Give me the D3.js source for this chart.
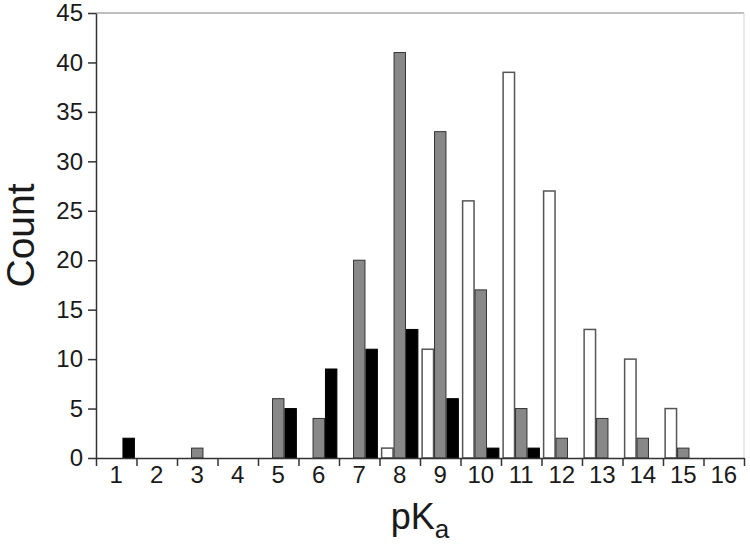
<!DOCTYPE html>
<html>
<head>
<meta charset="utf-8">
<script src="https://cdn.jsdelivr.net/npm/d3@7"></script>
<style>
  body { margin: 0; background: #fff; }
  svg { display: block; font-family: "Liberation Sans", Arial, sans-serif; }
</style>
</head>
<body>
<svg width="750" height="546"></svg>
<script>
var categories = ["1", "2", "3", "4", "5", "6", "7", "8", "9", "10", "11", "12", "13", "14", "15", "16"];
var series = ["white", "gray", "black"];
var whiteCounts = [0, 0, 0, 0, 0, 0, 0, 1, 11, 26, 39, 27, 13, 10, 5, 0];
var grayCounts  = [0, 0, 1, 0, 6, 4, 20, 41, 33, 17, 5, 2, 4, 2, 1, 0];
var blackCounts = [2, 0, 0, 0, 5, 9, 11, 13, 6, 1, 1, 0, 0, 0, 0, 0];
var yTicks = [0, 5, 10, 15, 20, 25, 30, 35, 40, 45];

var svg = d3.select("svg"),
    plotL = 96, plotR = 744, plotT = 13, plotB = 458;

var fills = { white: "#ffffff", gray: "#888888", black: "#000000" };
var strokes = { white: "#555555", gray: "#333333", black: "#000000" };
var counts = { white: whiteCounts, gray: grayCounts, black: blackCounts };

var x = d3.scaleBand()
    .domain(categories)
    .range([plotL, plotR])
    .paddingInner(0.08)
    .paddingOuter(0.04);

var xs = d3.scaleBand()
    .domain(series)
    .range([0, x.bandwidth()]);

var y = d3.scaleLinear()
    .domain([0, 45])
    .range([plotB, plotT]);

// frame lines on top and right
svg.append("line")
    .attr("x1", plotL).attr("x2", plotR)
    .attr("y1", plotT).attr("y2", plotT)
    .attr("stroke", "#aaaaaa").attr("stroke-width", 1.5);
svg.append("line")
    .attr("x1", plotR).attr("x2", plotR)
    .attr("y1", plotT).attr("y2", plotB)
    .attr("stroke", "#d4d4d4").attr("stroke-width", 1);

// bars
var data = [];
categories.forEach(function (c, i) {
    series.forEach(function (s) {
        if (counts[s][i] > 0) data.push({ cat: c, s: s, v: counts[s][i] });
    });
});

svg.append("g")
    .selectAll("rect")
    .data(data)
    .enter().append("rect")
    .attr("x", function (d) { return x(d.cat) + xs(d.s) + 0.5; })
    .attr("y", function (d) { return y(d.v); })
    .attr("width", xs.bandwidth() - 1)
    .attr("height", function (d) { return plotB - y(d.v); })
    .attr("fill", function (d) { return fills[d.s]; })
    .attr("stroke", function (d) { return strokes[d.s]; })
    .attr("stroke-width", function (d) { return d.s == "white" ? 1.5 : 1; });

// y axis
var yAxis = svg.append("g")
    .attr("transform", "translate(" + plotL + ",0)")
    .call(d3.axisLeft(y).tickValues(yTicks).tickSize(8).tickSizeOuter(0).tickPadding(5));
yAxis.select(".domain").attr("stroke", "#333").attr("stroke-width", 1.5);
yAxis.selectAll(".tick line").attr("stroke", "#333").attr("stroke-width", 1.5);
yAxis.selectAll(".tick text")
    .attr("font-size", 24)
    .attr("fill", "#1a1a1a")
    .attr("font-family", "'Liberation Sans', Arial, sans-serif");

// x axis: boundary ticks
var xb = d3.scaleLinear().domain([0, categories.length]).range([plotL, plotR]);
var xTickAxis = svg.append("g")
    .attr("transform", "translate(0," + plotB + ")")
    .call(d3.axisBottom(xb).tickValues(d3.range(0, categories.length + 1)).tickSize(8).tickSizeOuter(0).tickFormat(""));
xTickAxis.select(".domain").attr("stroke", "#333").attr("stroke-width", 1.5);
xTickAxis.selectAll(".tick line").attr("stroke", "#333").attr("stroke-width", 1.5);

// x axis labels
var xAxis = svg.append("g")
    .attr("transform", "translate(0," + plotB + ")")
    .call(d3.axisBottom(x).tickSize(0).tickPadding(8));
xAxis.select(".domain").remove();
xAxis.selectAll(".tick text")
    .attr("font-size", 24)
    .attr("fill", "#1a1a1a")
    .attr("font-family", "'Liberation Sans', Arial, sans-serif");

// axis titles
svg.append("text")
    .attr("transform", "translate(34," + (plotT + plotB) / 2 + ") rotate(-90)")
    .attr("text-anchor", "middle")
    .attr("font-size", 39)
    .attr("fill", "#1a1a1a")
    .text("Count");

var xt = svg.append("text")
    .attr("x", (plotL + plotR) / 2)
    .attr("y", 529)
    .attr("text-anchor", "middle")
    .attr("font-size", 36)
    .attr("fill", "#1a1a1a");
xt.append("tspan").text("pK");
xt.append("tspan").attr("font-size", 26).attr("dy", 9).text("a");
</script>
</body>
</html>
